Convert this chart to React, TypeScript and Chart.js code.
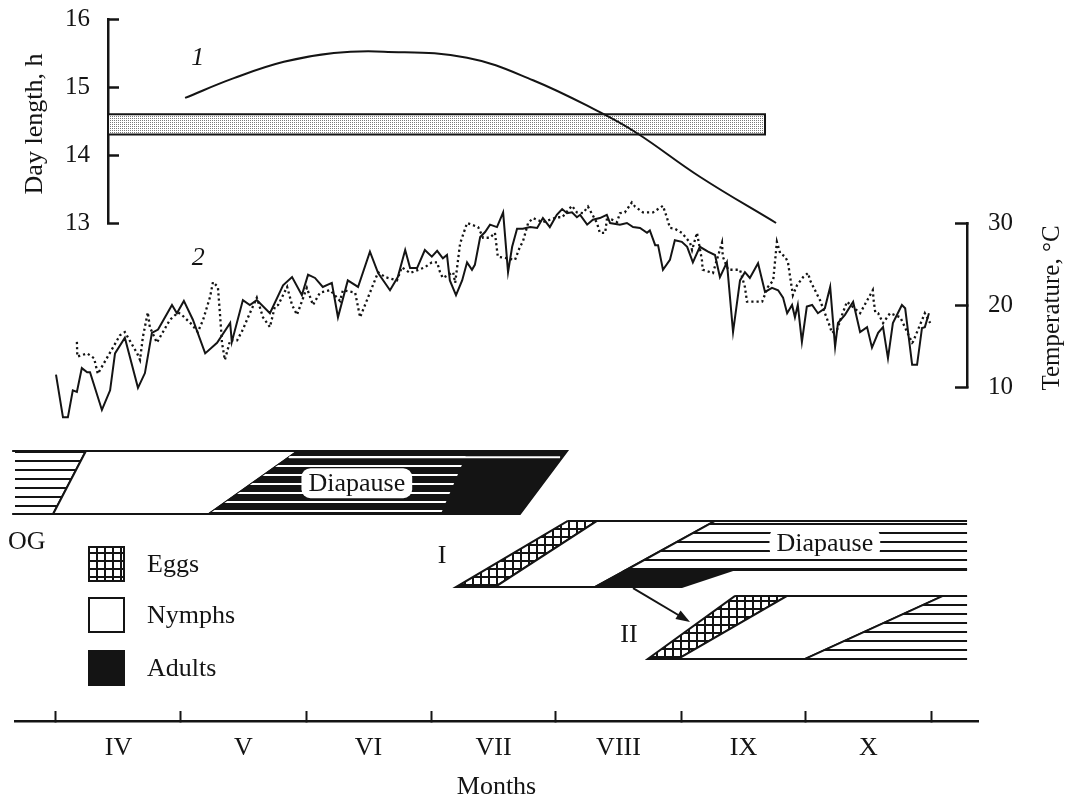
import { useEffect, useRef } from 'react';
import { Chart, registerables } from 'chart.js';

Chart.register(...registerables);

/* ---------- time axis: months drawn at equal widths ---------- */
const monthLabels = ['IV', 'V', 'VI', 'VII', 'VIII', 'IX', 'X'];
const DAYS_PER_MONTH = 30.5; // x values are days counted from 1 April

/* ---------- 1: day length, h ---------- */
const dayLengthDays = [31.5, 43.4, 55.6, 67.8, 80.0, 100.3, 116.4, 132.7, 141.8, 157.1, 175.7];
const dayLengthHours = [14.84, 15.13, 15.37, 15.5, 15.52, 15.43, 15.1, 14.63, 14.32, 13.68, 13.0];
const criticalDayLength = [14.3, 14.6]; // lower / upper bound, h
const criticalBandDays = [12.7, 173];
const curve1Label = { day: 34.6, value: 15.43 };

/* ---------- 2: temperature, °C  [day, value] ---------- */
const tempSolid: [number, number][] = [
  [0.0, 11.5], [1.7, 6.3], [2.9, 6.3], [4.1, 9.6], [5.1, 9.4], [6.3, 12.3], [7.6, 11.8], [8.3, 11.8],
  [11.2, 7.2], [13.2, 9.6], [14.4, 14.1], [16.8, 16.0], [20.0, 9.9], [21.7, 11.7], [23.4, 16.6], [24.9, 17.0],
  [28.3, 20.0], [29.5, 19.0], [31.2, 20.5], [33.4, 18.2], [36.4, 14.1], [39.3, 15.4], [42.5, 17.8], [42.9, 15.5],
  [45.6, 20.6], [47.3, 20.0], [49.0, 20.6], [52.2, 19.0], [55.4, 22.4], [57.6, 23.4], [60.0, 21.2], [61.5, 23.7],
  [63.2, 23.3], [65.1, 22.2], [67.3, 22.7], [68.8, 18.5], [71.2, 23.0], [73.7, 22.2], [76.6, 26.5], [78.6, 23.9],
  [81.5, 21.8], [83.4, 23.4], [85.2, 26.7], [86.4, 24.5], [88.1, 24.5], [90.0, 26.7], [91.7, 25.9], [93.0, 26.6],
  [94.4, 25.7], [95.4, 26.1], [96.1, 23.0], [97.6, 21.2], [99.1, 23.0], [100.3, 25.2], [101.5, 24.3], [102.2, 24.9],
  [103.5, 28.3], [104.7, 28.9], [105.9, 29.8], [107.6, 29.5], [109.1, 31.3], [110.3, 24.0], [111.3, 27.1], [112.5, 29.3],
  [113.9, 29.3], [115.7, 29.5], [117.4, 29.4], [118.8, 30.6], [120.5, 29.5], [122.2, 31.0], [123.5, 31.7], [124.7, 31.2],
  [125.9, 31.3], [127.1, 30.7], [127.9, 31.0], [129.6, 29.8], [131.0, 30.4], [132.7, 30.6], [134.4, 31.0], [135.2, 30.0],
  [137.6, 29.8], [139.3, 30.0], [140.8, 29.5], [142.5, 29.4], [144.2, 28.8], [144.9, 29.1], [146.2, 27.3], [146.9, 27.3],
  [148.1, 24.3], [149.8, 25.5], [151.0, 27.9], [152.7, 27.7], [154.0, 27.1], [155.4, 25.2], [157.1, 27.1], [159.1, 26.5],
  [160.8, 26.1], [162.0, 23.4], [163.7, 25.2], [165.2, 16.7], [166.9, 23.0], [168.1, 24.0], [169.3, 23.3], [171.3, 25.1],
  [173.0, 21.6], [174.7, 22.1], [176.2, 21.8], [177.4, 20.9], [178.4, 19.0], [179.6, 20.0], [180.3, 18.5], [181.0, 20.0],
  [182.0, 15.5], [183.2, 19.8], [184.5, 20.0], [185.9, 19.0], [187.6, 19.6], [188.9, 22.2], [190.1, 14.9], [190.8, 17.8],
  [192.5, 18.8], [194.5, 20.4], [196.2, 16.7], [197.9, 17.3], [199.1, 14.8], [200.6, 16.6], [201.8, 17.3], [203.0, 13.5],
  [204.2, 17.8], [206.4, 20.0], [207.2, 19.6], [208.9, 12.7], [210.1, 12.7], [211.3, 17.2], [212.0, 17.3], [213.0, 19.0],
];
const tempDotted: [number, number][] = [
  [5.1, 15.5], [5.2, 13.7], [7.6, 14.1], [9.3, 13.5], [10.2, 11.6], [15.6, 16.3], [16.8, 16.7], [19.8, 14.1],
  [20.5, 13.3], [21.2, 16.1], [22.4, 19.1], [22.9, 17.3], [24.6, 15.4], [27.8, 18.2], [29.8, 19.1], [30.7, 18.8],
  [33.2, 17.6], [34.6, 16.7], [35.9, 18.2], [37.6, 21.0], [38.3, 22.8], [39.5, 22.2], [40.0, 19.0], [40.5, 15.4],
  [41.2, 13.3], [42.5, 15.7], [44.2, 15.7], [45.6, 17.0], [46.6, 18.2], [47.3, 19.0], [49.0, 20.9], [50.5, 18.5],
  [52.2, 17.3], [53.4, 19.8], [54.2, 20.0], [56.4, 22.2], [57.6, 20.0], [58.8, 18.8], [61.2, 22.1], [62.7, 20.0],
  [64.4, 21.5], [66.9, 21.8], [69.3, 20.5], [70.0, 21.8], [73.0, 21.5], [74.2, 18.5], [75.4, 20.0], [76.6, 21.5],
  [78.6, 24.0], [80.3, 23.4], [83.2, 23.0], [84.4, 24.6], [86.4, 23.9], [90.0, 24.6], [91.7, 25.2], [93.0, 25.2],
  [93.7, 24.0], [94.4, 23.3], [96.9, 24.0], [97.4, 22.7], [98.6, 27.5], [100.3, 30.0], [103.0, 29.5], [104.2, 28.2],
  [105.9, 28.2], [107.1, 28.8], [107.8, 25.9], [112.0, 25.5], [113.2, 27.1], [113.9, 27.7], [115.2, 30.0], [116.4, 30.6],
  [118.8, 30.1], [120.5, 30.4], [122.2, 30.7], [123.5, 30.7], [125.9, 32.1], [127.1, 31.3], [128.6, 31.2], [129.8, 32.0],
  [132.0, 30.0], [132.7, 28.8], [134.0, 28.8], [134.4, 30.4], [135.7, 30.4], [136.9, 30.1], [137.6, 31.2], [138.8, 31.3],
  [140.5, 32.5], [141.3, 32.0], [143.2, 31.3], [145.7, 31.3], [148.1, 32.1], [149.1, 30.6], [149.8, 29.4], [151.0, 29.3],
  [152.7, 28.8], [154.7, 27.6], [155.2, 26.7], [156.4, 28.8], [157.6, 25.5], [157.8, 24.3], [160.3, 23.9], [162.5, 27.6],
  [162.7, 25.9], [164.0, 24.3], [166.9, 24.3], [168.1, 22.2], [168.6, 20.4], [172.3, 20.4], [173.7, 22.2], [175.0, 23.0],
  [175.9, 27.7], [176.7, 26.3], [177.9, 25.9], [178.6, 25.2], [179.8, 21.2], [180.8, 22.4], [182.3, 23.4], [183.5, 23.9],
  [184.0, 23.0], [186.4, 20.6], [188.9, 17.3], [189.3, 16.6], [190.6, 17.0], [191.8, 18.8], [193.0, 20.4], [196.2, 19.0],
  [199.3, 21.8], [199.5, 20.6], [199.9, 19.1], [200.6, 19.0], [201.8, 17.8], [203.5, 19.0], [206.0, 18.5], [208.9, 15.4],
  [209.1, 15.5], [212.0, 19.0], [213.3, 17.8],
];
const curve2Label = { day: 34.7, value: 25.7 };

/* ---------- development of the generations (days at top / bottom edge of a band) ---------- */
type Stage = 'eggs' | 'nymphs' | 'adults' | 'diapause' | 'adultDiapause';
type Level = 'ogTop' | 'ogBottom' | 'iTop' | 'iAdult' | 'iBottom' | 'iiTop' | 'iiBottom';
interface Phase { stage: Stage; rows: [Level, Level]; top: [number, number]; bottom: [number, number] }

const ogPhases: Phase[] = [
  { stage: 'diapause', rows: ['ogTop', 'ogBottom'], top: [-10.7, 7.3], bottom: [-10.7, -0.7] },
  { stage: 'nymphs', rows: ['ogTop', 'ogBottom'], top: [7.3, 59.0], bottom: [-0.7, 37.3] },
  { stage: 'adults', rows: ['ogTop', 'ogBottom'], top: [59.0, 124.7], bottom: [37.3, 113.2] },
  { stage: 'adultDiapause', rows: ['ogTop', 'ogBottom'], top: [59.0, 100.5], bottom: [37.3, 93.9] },
];
const ogFirstStripeDays = [56.9, 123.0];
const gen1Phases: Phase[] = [
  { stage: 'eggs', rows: ['iTop', 'iBottom'], top: [124.9, 132.0], bottom: [97.6, 107.1] },
  { stage: 'nymphs', rows: ['iTop', 'iBottom'], top: [132.0, 160.8], bottom: [107.1, 131.5] },
  { stage: 'diapause', rows: ['iTop', 'iAdult'], top: [160.8, 222.3], bottom: [139.1, 222.3] },
  { stage: 'adults', rows: ['iAdult', 'iBottom'], top: [139.1, 165.2], bottom: [131.5, 152.7] },
];
const gen2Phases: Phase[] = [
  { stage: 'eggs', rows: ['iiTop', 'iiBottom'], top: [165.7, 178.4], bottom: [144.4, 151.8] },
  { stage: 'nymphs', rows: ['iiTop', 'iiBottom'], top: [178.4, 216.4], bottom: [151.8, 182.8] },
  { stage: 'diapause', rows: ['iiTop', 'iiBottom'], top: [216.4, 222.3], bottom: [182.8, 222.3] },
];
const generationNames = [
  { text: 'OG', day: -11.7, level: 1.44, align: 'left' as CanvasTextAlign },
  { text: 'I', day: 94.2, level: 1.67, align: 'center' as CanvasTextAlign },
  { text: 'II', day: 139.8, level: 2.92, align: 'center' as CanvasTextAlign },
];
const diapauseTags = [
  { day: 73.4, level: 0.51 },
  { day: 187.6, level: 1.46 },
];
const offspringArrow = { from: [140.8, 2.175], to: [154.7, 2.714] };
const legendItems: { stage: Stage; label: string }[] = [
  { stage: 'eggs', label: 'Eggs' },
  { stage: 'nymphs', label: 'Nymphs' },
  { stage: 'adults', label: 'Adults' },
];

/* ---------- page layout ---------- */
const W = 1065;
const H = 801;
const APRIL_PX = 56;
const MONTH_PX = 125;
const pxToDay = (px: number) => ((px - APRIL_PX) / MONTH_PX) * DAYS_PER_MONTH;
const dayPanel = { left: 108, right: 978, top: 19, bottom: 223 };
const tempPanel = { left: 15, right: 967, top: 223, bottom: 387 };
const phenoPanel = { left: 15, right: 978, top: 451, bottom: 721 };
const ROW_PX = 63;
const ROW_LEVEL: Record<Level, number> = {
  ogTop: 0, ogBottom: 1, iTop: 1.11, iAdult: 1.89, iBottom: 2.16, iiTop: 2.3, iiBottom: 3.3,
};
const LEGEND = { x: 89, w: 35, h: 34, tops: [547, 598, 651], textX: 147 };

const FONT = '"Liberation Serif", "Times New Roman", serif';
const INK = '#141414';
const CLEAR = 'rgba(0,0,0,0)';

const serif = (size: number, italic = false) => `${italic ? 'italic ' : ''}${size}px ${FONT}`;

function drawText(
  ctx: CanvasRenderingContext2D, s: string, x: number, y: number, size: number,
  opt: { rotate?: number; italic?: boolean; align?: CanvasTextAlign } = {},
) {
  ctx.save();
  ctx.translate(x, y);
  if (opt.rotate) ctx.rotate(opt.rotate);
  ctx.font = serif(size, opt.italic);
  ctx.fillStyle = INK;
  ctx.textAlign = opt.align || 'center';
  ctx.textBaseline = 'middle';
  ctx.fillText(s, 0, 0);
  ctx.restore();
}

function tile(w: number, h: number, paint: (g: CanvasRenderingContext2D) => void): CanvasPattern {
  const c = document.createElement('canvas');
  c.width = w;
  c.height = h;
  const g = c.getContext('2d')!;
  paint(g);
  return g.createPattern(c, 'repeat')!;
}

function makePatterns() {
  return {
    stipple: tile(2, 2, (g) => {
      g.fillStyle = '#fff'; g.fillRect(0, 0, 2, 2);
      g.fillStyle = '#7a7a7a'; g.fillRect(0, 0, 1, 1);
    }),
    stripes: tile(9, 9, (g) => {
      g.fillStyle = '#fff'; g.fillRect(0, 0, 9, 9);
      g.fillStyle = INK; g.fillRect(0, 1, 9, 2);
    }),
    whiteStripes: tile(9, 9, (g) => {
      g.fillStyle = '#fff'; g.fillRect(0, 6, 9, 2);
    }),
    eggs: tile(8, 8, (g) => {
      g.fillStyle = '#fff'; g.fillRect(0, 0, 8, 8);
      g.fillStyle = INK; g.fillRect(0, 0, 8, 2); g.fillRect(0, 0, 2, 8);
    }),
  };
}
type Patterns = ReturnType<typeof makePatterns>;

function stageFill(stage: Stage, P: Patterns): string | CanvasPattern {
  switch (stage) {
    case 'eggs': return P.eggs;
    case 'nymphs': return '#fff';
    case 'adults': return INK;
    case 'diapause': return P.stripes;
    default: return P.whiteStripes;
  }
}

const baseOptions = (padding: { left: number; top: number; right: number; bottom: number }) => ({
  responsive: false,
  animation: false as const,
  devicePixelRatio: 1,
  events: [] as string[],
  layout: { padding },
  plugins: { legend: { display: false }, tooltip: { enabled: false } },
});

// keep tick-label room from pushing the plot area inwards
const noLabelPadding = (s: any) => {
  s.paddingTop = 0;
  s.paddingBottom = 0;
  s.paddingLeft = 0;
  s.paddingRight = 0;
};

/* ---------- chart 1: day length ---------- */
function dayConfig(P: Patterns): any {
  const [lo, hi] = criticalDayLength;
  const [d0, d1] = criticalBandDays;
  const band = [{ x: d0, y: hi }, { x: d1, y: hi }, { x: d1, y: lo }, { x: d0, y: lo }, { x: d0, y: hi }];
  const labelsPlugin = {
    id: 'dayLabels',
    afterDraw(chart: any) {
      const { ctx, chartArea, scales } = chart;
      drawText(ctx, 'Day length, h', 35, (chartArea.top + chartArea.bottom) / 2 + 3, 26, { rotate: -Math.PI / 2 });
      drawText(ctx, '1', scales.x.getPixelForValue(curve1Label.day), scales.y.getPixelForValue(curve1Label.value), 26, { italic: true });
    },
  };
  return {
    type: 'line',
    data: {
      datasets: [
        {
          label: 'Day length',
          data: dayLengthDays.map((d, i) => ({ x: d, y: dayLengthHours[i] })),
          borderColor: INK, borderWidth: 2, pointRadius: 0, fill: false,
          tension: 0.4, clip: false, order: 0,
        },
        {
          label: 'Critical day length',
          data: band, borderColor: INK, borderWidth: 2, backgroundColor: P.stipple,
          fill: 'shape', pointRadius: 0, tension: 0, order: 1,
        },
      ],
    },
    options: {
      ...baseOptions({ left: 0, top: dayPanel.top, right: W - dayPanel.right, bottom: H - dayPanel.bottom }),
      scales: {
        x: { type: 'linear', display: false, min: pxToDay(dayPanel.left), max: pxToDay(dayPanel.right) },
        y: {
          type: 'linear', position: 'left', min: 13, max: 16,
          ticks: { stepSize: 1, padding: 29, font: { family: FONT, size: 25 }, color: INK },
          grid: { drawOnChartArea: false, tickLength: -11, tickWidth: 2.5, tickColor: INK },
          border: { display: true, width: 2.5, color: INK },
          afterFit: (s: any) => { s.width = dayPanel.left; noLabelPadding(s); },
        },
      },
    },
    plugins: [labelsPlugin],
  };
}

/* ---------- chart 2: temperature ---------- */
function tempConfig(): any {
  const labelsPlugin = {
    id: 'tempLabels',
    afterDraw(chart: any) {
      const { ctx, scales } = chart;
      drawText(ctx, 'Temperature, °C', 1052, 308, 25, { rotate: -Math.PI / 2 });
      drawText(ctx, '2', scales.x.getPixelForValue(curve2Label.day), scales.y.getPixelForValue(curve2Label.value), 26, { italic: true });
    },
  };
  return {
    type: 'line',
    data: {
      datasets: [
        {
          label: 'Temperature (solid)',
          data: tempSolid.map(([x, y]) => ({ x, y })),
          borderColor: INK, borderWidth: 2, pointRadius: 0, tension: 0, fill: false, clip: false,
        },
        {
          label: 'Temperature (dotted)',
          data: tempDotted.map(([x, y]) => ({ x, y })),
          borderColor: INK, borderWidth: 2.3, borderDash: [2.2, 3], pointRadius: 0, tension: 0, fill: false, clip: false,
        },
      ],
    },
    options: {
      ...baseOptions({ left: tempPanel.left, top: tempPanel.top, right: 0, bottom: H - tempPanel.bottom }),
      scales: {
        x: { type: 'linear', display: false, min: pxToDay(tempPanel.left), max: pxToDay(tempPanel.right) },
        y: {
          type: 'linear', position: 'right', min: 10, max: 30,
          ticks: { stepSize: 10, padding: 33, font: { family: FONT, size: 25 }, color: INK },
          grid: { drawOnChartArea: false, tickLength: -12, tickWidth: 2.5, tickColor: INK },
          border: { display: true, width: 2.5, color: INK },
          afterFit: (s: any) => { s.width = W - tempPanel.right; noLabelPadding(s); },
        },
      },
    },
    plugins: [labelsPlugin],
  };
}

/* ---------- chart 3: phenology and month axis ---------- */
// a phase band is a quadrilateral: fill without border, then its outline
// (vertical ends are left open, as the bands run on beyond them)
function phaseDatasets(ph: Phase, P: Patterns): any[] {
  const t = ROW_LEVEL[ph.rows[0]];
  const b = ROW_LEVEL[ph.rows[1]];
  const A = { x: ph.top[0], y: t };
  const B = { x: ph.top[1], y: t };
  const C = { x: ph.bottom[1], y: b };
  const D = { x: ph.bottom[0], y: b };
  const sets: any[] = [{
    label: ph.stage,
    data: [A, B, C, D, A],
    fill: 'shape',
    backgroundColor: stageFill(ph.stage, P),
    borderColor: CLEAR,
    borderWidth: 0,
    pointRadius: 0,
    tension: 0,
    clip: false,
  }];
  if (ph.stage !== 'adultDiapause') {
    const openRight = ph.top[1] === ph.bottom[1];
    const openLeft = ph.top[0] === ph.bottom[0];
    const path = openRight ? [C, D, A, B] : openLeft ? [A, B, C, D] : [A, B, C, D, A];
    sets.push({
      label: ph.stage + ' outline',
      data: path,
      fill: false,
      borderColor: INK,
      borderWidth: 2,
      pointRadius: 0,
      tension: 0,
      clip: false,
    });
  }
  return sets;
}

function phenoConfig(P: Patterns): any {
  const layers: any[] = [];
  ogPhases.forEach((ph) => layers.push(...phaseDatasets(ph, P)));
  layers.push({
    label: 'first stripe',
    data: ogFirstStripeDays.map((d) => ({ x: d, y: 0.1 })),
    borderColor: '#fff', borderWidth: 2, pointRadius: 0, fill: false, clip: false,
  });
  gen1Phases.forEach((ph) => layers.push(...phaseDatasets(ph, P)));
  gen2Phases.forEach((ph) => layers.push(...phaseDatasets(ph, P)));
  // later layers are painted on top
  layers.forEach((ds, i) => { ds.order = layers.length - i; });

  const monthTicks: number[] = [];
  for (let i = 0; i <= monthLabels.length; i++) {
    monthTicks.push(i * DAYS_PER_MONTH);
    if (i < monthLabels.length) monthTicks.push(i * DAYS_PER_MONTH + DAYS_PER_MONTH / 2);
  }
  const monthIndex = (v: number) => {
    const k = (v - DAYS_PER_MONTH / 2) / DAYS_PER_MONTH;
    return Math.abs(k - Math.round(k)) < 1e-6 ? Math.round(k) : -1;
  };

  const labelsPlugin = {
    id: 'phenoLabels',
    afterDraw(chart: any) {
      const { ctx, chartArea, scales } = chart;
      const X = (d: number) => scales.x.getPixelForValue(d);
      const Y = (l: number) => scales.y.getPixelForValue(l);

      // "Diapause" tags on a white patch
      ctx.save();
      ctx.font = serif(26);
      for (const tag of diapauseTags) {
        const x = X(tag.day);
        const y = Y(tag.level);
        const w = ctx.measureText('Diapause').width + 14;
        ctx.fillStyle = '#fff';
        ctx.beginPath();
        ctx.roundRect(x - w / 2, y - 15, w, 30, 9);
        ctx.fill();
        drawText(ctx, 'Diapause', x, y + 1, 26);
      }
      ctx.restore();

      // generation names
      for (const g of generationNames) drawText(ctx, g.text, X(g.day), Y(g.level), 26, { align: g.align });

      // arrow from generation I adults to generation II eggs
      const ax = X(offspringArrow.from[0]);
      const ay = Y(offspringArrow.from[1]);
      const bx = X(offspringArrow.to[0]);
      const by = Y(offspringArrow.to[1]);
      const ang = Math.atan2(by - ay, bx - ax);
      const hl = 14;
      const hw = 5;
      ctx.save();
      ctx.strokeStyle = INK;
      ctx.fillStyle = INK;
      ctx.lineWidth = 2;
      ctx.beginPath();
      ctx.moveTo(ax, ay);
      ctx.lineTo(bx - Math.cos(ang) * hl * 0.8, by - Math.sin(ang) * hl * 0.8);
      ctx.stroke();
      ctx.beginPath();
      ctx.moveTo(bx, by);
      ctx.lineTo(bx - Math.cos(ang) * hl - Math.sin(ang) * hw, by - Math.sin(ang) * hl + Math.cos(ang) * hw);
      ctx.lineTo(bx - Math.cos(ang) * hl + Math.sin(ang) * hw, by - Math.sin(ang) * hl - Math.cos(ang) * hw);
      ctx.closePath();
      ctx.fill();
      ctx.restore();

      // legend
      legendItems.forEach((item, i) => {
        const top = LEGEND.tops[i];
        ctx.save();
        ctx.fillStyle = stageFill(item.stage, P);
        ctx.fillRect(LEGEND.x, top, LEGEND.w, LEGEND.h);
        ctx.strokeStyle = INK;
        ctx.lineWidth = 2;
        ctx.strokeRect(LEGEND.x, top, LEGEND.w, LEGEND.h);
        ctx.restore();
        drawText(ctx, item.label, LEGEND.textX, top + LEGEND.h / 2 + 1, 26, { align: 'left' });
      });

      // axis title
      drawText(ctx, 'Months', (chartArea.left + chartArea.right) / 2, 787, 26);
    },
  };

  return {
    type: 'line',
    data: { datasets: layers },
    options: {
      ...baseOptions({ left: phenoPanel.left, top: phenoPanel.top, right: W - phenoPanel.right, bottom: 0 }),
      scales: {
        x: {
          type: 'linear', position: 'bottom',
          min: pxToDay(phenoPanel.left), max: pxToDay(phenoPanel.right),
          afterBuildTicks: (s: any) => { s.ticks = monthTicks.map((value) => ({ value })); },
          ticks: {
            autoSkip: false, maxRotation: 0, minRotation: 0, padding: 22,
            font: { family: FONT, size: 26 }, color: INK,
            callback: (v: number) => {
              const k = monthIndex(Number(v));
              return k >= 0 ? monthLabels[k] : '';
            },
          },
          grid: {
            drawOnChartArea: false, tickLength: -10, tickWidth: 2,
            tickColor: (c: any) => (c.tick && monthIndex(c.tick.value) >= 0 ? CLEAR : INK),
          },
          border: { display: true, width: 2.5, color: INK },
          afterFit: (s: any) => { s.height = H - phenoPanel.bottom; noLabelPadding(s); },
        },
        y: {
          type: 'linear', display: false, reverse: true,
          min: 0, max: (phenoPanel.bottom - phenoPanel.top) / ROW_PX,
        },
      },
    },
    plugins: [labelsPlugin],
  };
}

export default function App() {
  const dayRef = useRef<HTMLCanvasElement>(null);
  const tempRef = useRef<HTMLCanvasElement>(null);
  const phenoRef = useRef<HTMLCanvasElement>(null);

  useEffect(() => {
    const P = makePatterns();
    const charts = [
      new Chart(phenoRef.current!, phenoConfig(P)),
      new Chart(tempRef.current!, tempConfig()),
      new Chart(dayRef.current!, dayConfig(P)),
    ];
    return () => charts.forEach((c) => c.destroy());
  }, []);

  const layer = { position: 'absolute', left: 0, top: 0, width: W, height: H } as const;
  return (
    <div style={{ position: 'absolute', left: 0, top: 0, width: W, height: H, background: '#fff', overflow: 'hidden' }}>
      <canvas ref={phenoRef} width={W} height={H} style={layer} />
      <canvas ref={tempRef} width={W} height={H} style={layer} />
      <canvas ref={dayRef} width={W} height={H} style={layer} />
    </div>
  );
}
